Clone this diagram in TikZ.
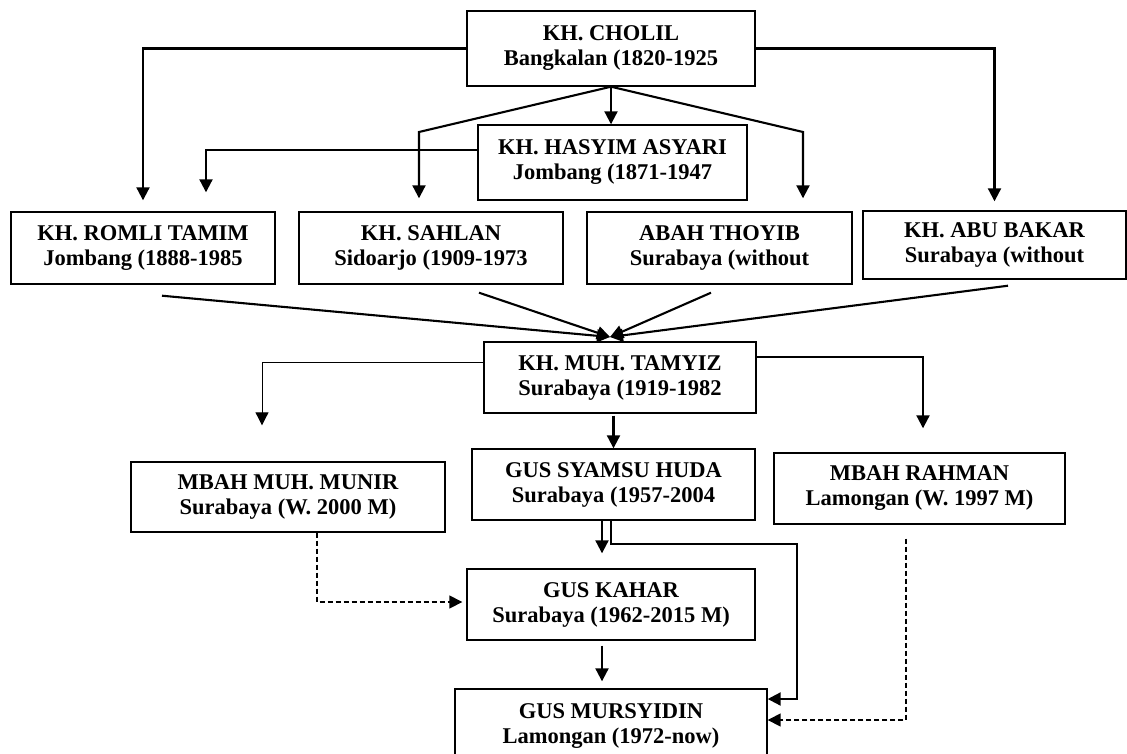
\documentclass[tikz,border=0pt]{standalone}
\usepackage{fontspec}
\setmainfont{Liberation Serif}
\usetikzlibrary{arrows.meta,calc}
\begin{document}
\begin{tikzpicture}[x=1pt,y=-1pt,
  box/.style={draw, line width=1.4pt, inner sep=0pt, align=center,
    font=\fontsize{22.5}{25}\selectfont\bfseries},
  conn/.style={line width=2.1pt, -{Triangle[length=13pt,width=13pt]}},
  dconn/.style={conn, line width=1.6pt, dash pattern=on 5pt off 3pt}]
\useasboundingbox (0,0) rectangle (1127,753);
\fill[white] (0,0) rectangle (1127,753);
% nodes
\node[box, minimum width=288pt, minimum height=75pt] (cholil) at (611,48.5) {KH. CHOLIL\\Bangkalan (1820-1925};
\node[box, minimum width=269pt, minimum height=75pt] (hasyim) at (612.5,162.5) {KH. HASYIM ASYARI\\Jombang (1871-1947};
\node[box, minimum width=264pt, minimum height=72pt] (romli) at (143,248) {KH. ROMLI TAMIM\\Jombang (1888-1985};
\node[box, minimum width=264pt, minimum height=72pt] (sahlan) at (431,248) {KH. SAHLAN\\Sidoarjo (1909-1973};
\node[box, minimum width=265pt, minimum height=72pt] (abah) at (719.5,248) {ABAH THOYIB\\Surabaya (without};
\node[box, minimum width=263pt, minimum height=68pt] (abubakar) at (994.5,245) {KH. ABU BAKAR\\Surabaya (without};
\node[box, minimum width=272pt, minimum height=71pt] (tamyiz) at (620,377.5) {KH. MUH. TAMYIZ\\Surabaya (1919-1982};
\node[box, minimum width=314pt, minimum height=70pt] (munir) at (288,497) {MBAH MUH. MUNIR\\Surabaya (W. 2000 M)};
\node[box, minimum width=283pt, minimum height=71pt] (syamsu) at (613.5,484.5) {GUS SYAMSU HUDA\\Surabaya (1957-2004};
\node[box, minimum width=291pt, minimum height=71pt] (rahman) at (919.5,488.5) {MBAH RAHMAN\\Lamongan (W. 1997 M)};
\node[box, minimum width=288pt, minimum height=71pt] (kahar) at (611,604.5) {GUS KAHAR\\Surabaya (1962-2015 M)};
\node[box, minimum width=312pt, minimum height=74pt] (mursyidin) at (611,726) {GUS MURSYIDIN\\Lamongan (1972-now)};
% helper coordinates
\coordinate (sa) at (419,132);
\coordinate (ab) at (803,132);
\coordinate (hr) at (206,150);
\coordinate (conv) at (610,337);
\coordinate (ml) at (262,362);
\coordinate (rr) at (923,357);
\coordinate (sk) at (602,520);
\coordinate (q1) at (611,544);
\coordinate (q2) at (797,544);
\coordinate (q3) at (797,699);
\coordinate (d1) at (317,602);
\coordinate (d2) at (906,720);
% connectors from KH. CHOLIL
\draw[conn, shorten >=11pt] (cholil.west) -| (romli.north);
\draw[conn, shorten >=9pt] (cholil.east) -| (abubakar.north);
\draw[conn] (cholil.south) -- (cholil.south |- hasyim.north);
\draw[conn, shorten >=13pt] (cholil.south) -- (sa) -- (sa |- sahlan.north);
\draw[conn, shorten >=13pt] (cholil.south) -- (ab) -- (ab |- abah.north);
% from KH. HASYIM ASYARI
\draw[conn, shorten >=19pt] (hasyim.west |- hr) -- (hr) -- (hr |- romli.north);
% convergence to KH. MUH. TAMYIZ
\draw[conn] ($(romli.south)+(19,11)$) -- (conv);
\draw[conn] ($(sahlan.south)+(48,8)$) -- (conv);
\draw[conn] ($(abah.south)+(-8.5,8)$) -- (conv);
\draw[conn] ($(abubakar.south)+(13.5,6)$) -- (conv);
% from KH. MUH. TAMYIZ
\draw[conn, line width=1pt, shorten >=36pt] (tamyiz.west |- ml) -- (ml) -- (ml |- munir.north);
\draw[conn, shorten >=24pt] (tamyiz.east |- rr) -- (rr) -- (rr |- rahman.north);
\draw[conn, shorten <=2pt] (syamsu.north |- tamyiz.south) -- (syamsu.north);
% from GUS SYAMSU HUDA
\draw[conn, shorten >=15pt] (sk |- syamsu.south) -- (sk |- kahar.north);
\draw[conn] (q1 |- syamsu.south) -- (q1) -- (q2) -- (q3) -- (q3 -| mursyidin.east);
% from GUS KAHAR
\draw[conn, shorten <=5pt, shorten >=7pt] (sk |- kahar.south) -- (sk |- mursyidin.north);
% dashed
\draw[dconn, shorten >=4pt] (d1 |- munir.south) -- (d1) -- (d1 -| kahar.west);
\draw[dconn, shorten <=14pt] (d2 |- rahman.south) -- (d2) -- (d2 -| mursyidin.east);
\end{tikzpicture}
\end{document}
